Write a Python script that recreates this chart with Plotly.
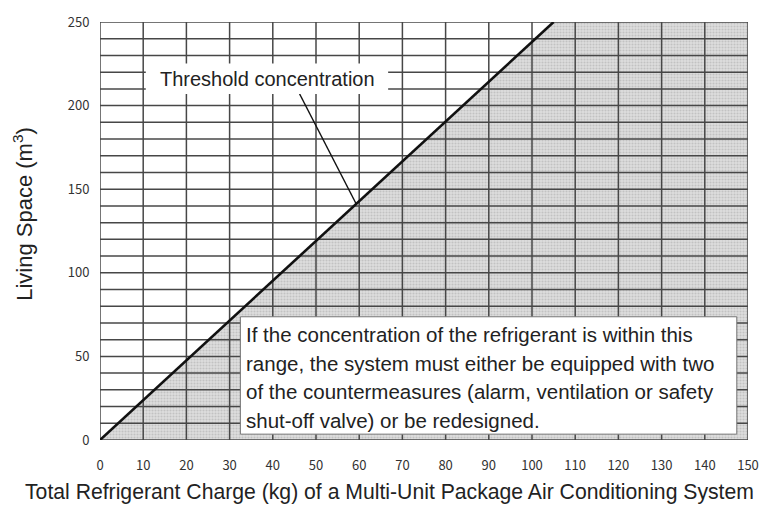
import plotly.graph_objects as go

# Axis ticks
x_ticks = list(range(0, 151, 10))
y_ticks = list(range(0, 251, 50))
y_grid = list(range(0, 251, 10))

# Threshold concentration line: living space vs. refrigerant charge (0.42 kg/m3)
threshold_x = [0, 105]
threshold_y = [0, 250]

# Shaded region (charge above the threshold)
shade_x = [0, 105, 150, 150, 0]
shade_y = [0, 250, 250, 0, 0]

# Leader from label to the threshold line
leader_x = [46.2, 59.3]
leader_y = [207, 141.2]

note_lines = [
    "If the concentration of the refrigerant is within this",
    "range, the system must either be equipped with two",
    "of the countermeasures (alarm, ventilation or safety",
    "shut-off valve) or be redesigned.",
]

FONT = "Liberation Sans, Arial, sans-serif"
TICKFONT = dict(family="Noto Sans CJK JP, DejaVu Sans, sans-serif", size=13, color="#333333")
GRID = "#474747"

fig = go.Figure()

fig.add_trace(go.Scatter(
    x=shade_x, y=shade_y, mode="lines", fill="toself",
    fillcolor="#d8d8d8", line=dict(width=0),
    fillpattern=dict(shape=".", fgcolor="#c2c2c2", bgcolor="#dedede",
                     size=3, solidity=0.4, fillmode="replace"),
    hoverinfo="skip", showlegend=False,
))

# Grid lines drawn over the shaded area
gx, gy = [], []
for v in x_ticks:
    gx += [v, v, None]
    gy += [0, 250, None]
for v in y_grid:
    gx += [0, 150, None]
    gy += [v, v, None]
fig.add_trace(go.Scatter(x=gx, y=gy, mode="lines",
                         line=dict(color=GRID, width=1.5),
                         hoverinfo="skip", showlegend=False))

fig.add_trace(go.Scatter(x=threshold_x, y=threshold_y, mode="lines",
                         line=dict(color="#111111", width=2.6),
                         hoverinfo="skip", showlegend=False, cliponaxis=False))

fig.add_trace(go.Scatter(x=leader_x, y=leader_y, mode="lines",
                         line=dict(color="#111111", width=1.3),
                         hoverinfo="skip", showlegend=False))

# White boxes behind the labels
fig.add_shape(type="rect", x0=10.6, x1=66.7, y0=207, y1=225.2,
              fillcolor="white", line=dict(width=0), layer="above")
fig.add_shape(type="rect", x0=32.5, x1=147.4, y0=3.5, y1=73.7,
              fillcolor="white", line=dict(color="#777777", width=1), layer="above")

fig.add_annotation(x=38.7, y=216.1, text="Threshold concentration",
                   showarrow=False, xanchor="center", yanchor="middle",
                   font=dict(family=FONT, size=20, color="#222222"))

for i, line in enumerate(note_lines):
    fig.add_annotation(x=33.4, y=63.0 - i * 17.1, text=line, showarrow=False,
                       xanchor="left", yanchor="middle",
                       font=dict(family=FONT, size=20.5, color="#222222"))

# Axis titles
fig.add_annotation(
    xref="paper", yref="paper", x=0.447, y=-0.125,
    text="Total Refrigerant Charge (kg) of a Multi-Unit Package Air Conditioning System",
    showarrow=False, xanchor="center", yanchor="middle",
    font=dict(family=FONT, size=21.2, color="#222222"),
)
fig.add_annotation(
    xref="paper", yref="paper", x=-0.118, y=0.54,
    text="Living Space (m<sup>3</sup>)", textangle=-90,
    showarrow=False, xanchor="center", yanchor="middle",
    font=dict(family=FONT, size=22, color="#222222"),
)

fig.update_layout(
    width=771, height=518,
    margin=dict(l=100, r=21, t=16, b=78),
    paper_bgcolor="white", plot_bgcolor="white",
    showlegend=False,
)
fig.update_xaxes(
    range=[0, 150], tickvals=x_ticks, ticks="outside", ticklen=13,
    tickcolor="rgba(0,0,0,0)", showgrid=False, zeroline=False,
    showline=False, tickfont=TICKFONT,
)
fig.update_yaxes(
    range=[0, 250], tickvals=y_ticks, ticks="outside", ticklen=7,
    tickcolor="rgba(0,0,0,0)", showgrid=False, zeroline=False,
    showline=False, tickfont=TICKFONT,
)

fig.write_html("out.html")
